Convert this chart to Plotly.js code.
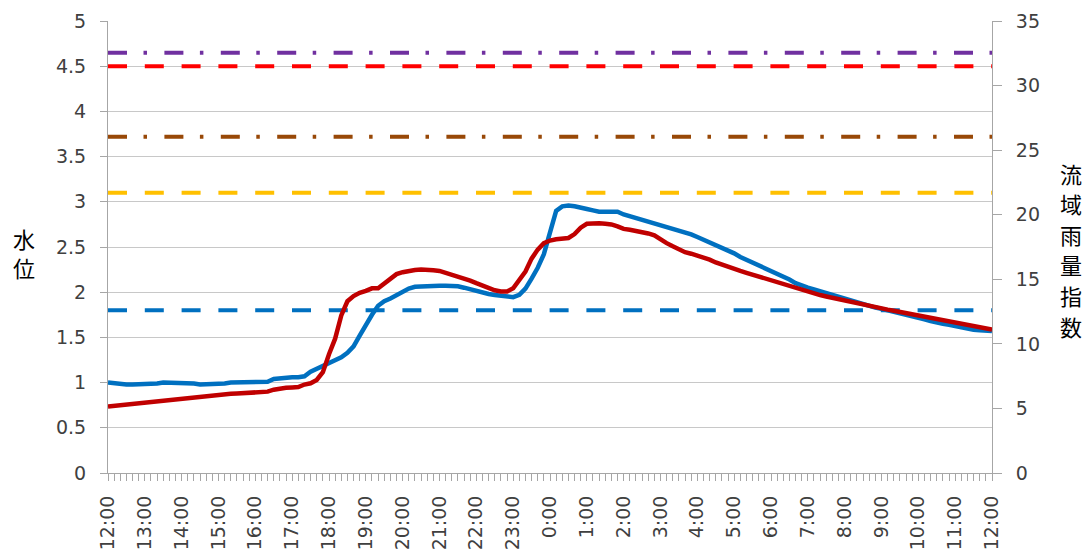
<!DOCTYPE html>
<html>
<head>
<meta charset="utf-8">
<script src="https://cdn.plot.ly/plotly-3.0.1.min.js"></script>
<style>html,body{margin:0;padding:0;background:#fff;}#chart{width:1085px;height:552px;}</style>
</head>
<body>
<div id="chart"></div>
<script>
// Tick labels (hourly, 12:00 to 12:00 next day)
const timeLabels = ["12:00","13:00","14:00","15:00","16:00","17:00","18:00","19:00","20:00","21:00","22:00","23:00",
  "0:00","1:00","2:00","3:00","4:00","5:00","6:00","7:00","8:00","9:00","10:00","11:00","12:00"];

// Axis titles (written vertically, one character per line)
const leftTitle = "水位";
const rightTitle = "流域雨量指数";

// 水位 (left axis), 10-minute samples
const waterLevel = [
  1.00,0.99,0.98,0.98,0.98,0.98,0.98,0.98,0.99,1.00,1.00,1.00,
  1.00,1.00,0.99,0.98,0.98,0.98,0.98,0.99,1.00,1.00,1.00,1.00,
  1.00,1.00,1.01,1.04,1.05,1.06,1.06,1.06,1.07,1.12,1.15,1.18,
  1.21,1.25,1.28,1.33,1.40,1.52,1.64,1.75,1.85,1.90,1.93,1.97,
  2.01,2.04,2.06,2.065,2.07,2.07,2.07,2.07,2.07,2.065,2.05,2.03,
  2.01,1.99,1.98,1.97,1.96,1.955,1.945,1.97,2.04,2.15,2.27,2.42,
  2.68,2.90,2.95,2.96,2.95,2.93,2.92,2.905,2.89,2.89,2.89,2.89,
  2.86,2.84,2.83,2.81,2.78,2.76,2.74,2.72,2.70,2.68,2.66,2.64,
  2.61,2.58,2.56,2.53,2.50,2.46,2.43,2.39,2.36,2.33,2.30,2.27,
  2.24,2.21,2.18,2.14,2.10,2.07,2.05,2.03,2.01,1.99,1.96,1.94,
  1.92,1.905,1.89,1.87,1.85,1.83,1.815,1.80,1.78,1.765,1.75,1.735,
  1.715,1.70,1.68,1.66,1.65,1.64,1.625,1.61,1.60,1.585,1.58,1.575,
  1.57
];

// 流域雨量指数 (right axis), 10-minute samples
const rainIndex = [
  5.15,5.20,5.25,5.30,5.38,5.45,5.50,5.55,5.60,5.65,5.70,5.75,
  5.80,5.85,5.90,5.95,6.00,6.05,6.08,6.10,6.13,6.15,6.18,6.20,
  6.23,6.25,6.30,6.45,6.55,6.60,6.62,6.65,6.85,6.95,7.20,7.80,
  9.20,10.4,12.2,13.3,13.7,13.95,14.1,14.3,14.3,14.7,15.1,15.4,
  15.55,15.65,15.72,15.75,15.75,15.70,15.65,15.50,15.40,15.25,15.10,14.90,
  14.70,14.50,14.30,14.15,14.05,14.05,14.30,14.90,15.60,16.60,17.30,17.80,
  18.00,18.10,18.15,18.20,18.50,19.00,19.30,19.33,19.33,19.30,19.25,19.10,
  18.90,18.83,18.75,18.65,18.55,18.40,18.05,17.80,17.55,17.30,17.10,16.98,
  16.85,16.68,16.52,16.30,16.12,15.95,15.80,15.65,15.50,15.35,15.20,15.05,
  14.95,14.80,14.65,14.50,14.35,14.20,14.05,13.90,13.78,13.67,13.56,13.46,
  13.35,13.25,13.15,13.05,12.96,12.85,12.75,12.65,12.56,12.47,12.38,12.28,
  12.19,12.10,12.02,11.93,11.84,11.75,11.65,11.56,11.47,11.38,11.30,11.20,
  11.10
];

// Reference water levels (left axis)
const levelValues = [4.65, 4.5, 3.72, 3.1, 1.8];
const levelColors = ["#7030A0", "#FF0000", "#984807", "#FFC000", "#0070C0"];
const levelDash = ["19px,16.5px,3.5px,17.4px", "19px,17.8px", "19px,16.5px,3.5px,17.4px", "19px,17.8px", "19px,17.8px"];

const xs = waterLevel.map((_, i) => i / 6);
const tickPos = timeLabels.map((_, i) => i);
const xEnd = tickPos[tickPos.length - 1];

const traces = [];
levelValues.forEach((v, k) => {
  traces.push({
    x: [0, xEnd], y: [v, v], mode: "lines", yaxis: "y", hoverinfo: "skip",
    line: {color: levelColors[k], width: 4, dash: levelDash[k]}
  });
});
traces.push({x: xs, y: waterLevel, mode: "lines", yaxis: "y", line: {color: "#0070C0", width: 4.5}});
traces.push({x: xs, y: rainIndex, mode: "lines", yaxis: "y2", line: {color: "#C00000", width: 4.5}});

const tickFont = {family: "DejaVu Sans", size: 19, color: "#404040"};
const axisGray = "#A6A6A6";

// plot area in pixels: x 108..992, y 21..473
const plotL = 108, plotW = 884, plotT = 21, plotH = 452;
const titleFont = {family: "Noto Sans CJK JP", size: 22, color: "#000"};
const annotations = [];
Array.from(leftTitle).forEach((ch, k) => {
  annotations.push({text: ch, xref: "paper", yref: "paper",
    x: (24 - plotL) / plotW, y: (plotT + plotH - (237.5 + k * 29)) / plotH,
    xanchor: "center", yanchor: "middle", showarrow: false, font: titleFont});
});
Array.from(rightTitle).forEach((ch, k) => {
  annotations.push({text: ch, xref: "paper", yref: "paper",
    x: (1071 - plotL) / plotW, y: (plotT + plotH - (172.5 + k * 30.6)) / plotH,
    xanchor: "center", yanchor: "middle", showarrow: false, font: titleFont});
});

const layout = {
  width: 1085, height: 552,
  margin: {l: 108, r: 93, t: 21, b: 79, pad: 0},
  paper_bgcolor: "#fff", plot_bgcolor: "#fff",
  showlegend: false,
  xaxis: {
    range: [0, xEnd], tickvals: tickPos, ticktext: timeLabels, tickangle: -90,
    showgrid: false, zeroline: false, showline: true, linecolor: axisGray, linewidth: 1,
    ticks: "outside", ticklen: 7, tickcolor: axisGray,
    tickfont: {family: "DejaVu Sans", size: 19, color: "#404040"},
    ticklabelstandoff: 7,
    minor: {dtick: 1/6, tick0: 0, ticks: "outside", ticklen: 7, tickcolor: axisGray, showgrid: false}
  },
  yaxis: {
    range: [0, 5], dtick: 0.5, tick0: 0, showgrid: true, gridcolor: "#C8C8C8", gridwidth: 1,
    zeroline: false, showline: true, linecolor: axisGray, linewidth: 1,
    ticks: "outside", ticklen: 7, tickcolor: axisGray, tickfont: tickFont,
    ticklabelstandoff: 10
  },
  yaxis2: {
    range: [0, 35], dtick: 5, tick0: 0, overlaying: "y", side: "right", showgrid: false,
    zeroline: false, showline: true, linecolor: axisGray, linewidth: 1,
    ticks: "outside", ticklen: 9, tickcolor: axisGray, tickfont: tickFont,
    ticklabelstandoff: 10
  },
  annotations: annotations
};

Plotly.newPlot("chart", traces, layout, {displayModeBar: false, staticPlot: true});
</script>
</body>
</html>
